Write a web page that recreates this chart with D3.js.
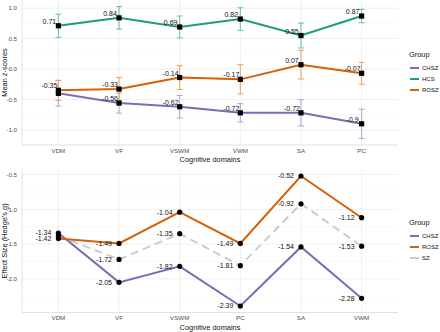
<!DOCTYPE html>
<html>
<head>
<meta charset="utf-8">
<script src="https://cdn.jsdelivr.net/npm/d3@7"></script>
<style>
  body { margin: 0; background: #fff; }
  svg text { font-family: "Liberation Sans", Arial, sans-serif; }
</style>
</head>
<body>
<svg id="chart" width="440" height="332"></svg>
<script>
// top panel: mean z-scores with error bars
var domainsTop = ["VDM", "VF", "VSWM", "VWM", "SA", "PC"];
var hcsMean = [0.71, 0.84, 0.69, 0.82, 0.55, 0.87];
var hcsErr = [0.19, 0.185, 0.18, 0.185, 0.205, 0.11];
var roszMean = [-0.35, -0.33, -0.14, -0.17, 0.07, -0.07];
var roszErr = [0.165, 0.19, 0.195, 0.24, 0.235, 0.18];
var chszMean = [-0.40, -0.56, -0.62, -0.72, -0.72, -0.9];
var chszErr = [0.21, 0.165, 0.185, 0.15, 0.215, 0.24];
var yTicksTop = [-1.0, -0.5, 0.0, 0.5, 1.0];

// bottom panel: effect sizes
var domainsBottom = ["VDM", "VF", "VSWM", "PC", "SA", "VWM"];
var chszG = [-1.34, -2.05, -1.82, -2.39, -1.54, -2.28];
var roszG = [-1.42, -1.49, -1.04, -1.49, -0.52, -1.12];
var szG = [-1.38, -1.72, -1.35, -1.81, -0.92, -1.53];
var yTicksBottom = [-2.0, -1.5, -1.0, -0.5];

var colors = { CHSZ: "#7570b3", HCS: "#1b9e77", ROSZ: "#d95f02", SZ: "#cccccc" };

var svg = d3.select("#chart");
var left = 22, right = 398;

function fmt(v) { return String(+v.toFixed(2)); }

function expand(lo, hi) {
    var pad = (hi - lo) * 0.05;
    return [lo - pad, hi + pad];
}

function drawPanel(cfg) {
    var g = svg.append("g");
    var x = d3.scalePoint().domain(cfg.cats).range([left, right]).padding(0.6);
    var y = d3.scaleLinear().domain(cfg.yDomain).range([cfg.bottom, cfg.top]);

    // minor grid
    var minor = [];
    for (var i = 0; i < cfg.ticks.length - 1; i++) minor.push((cfg.ticks[i] + cfg.ticks[i + 1]) / 2);
    minor.unshift(cfg.ticks[0] - 0.25);
    minor.push(cfg.ticks[cfg.ticks.length - 1] + 0.25);
    minor = minor.filter(function(v) { return v > cfg.yDomain[0] && v < cfg.yDomain[1]; });
    g.selectAll(".minor").data(minor).enter().append("line")
        .attr("x1", left).attr("x2", right)
        .attr("y1", function(d) { return y(d); }).attr("y2", function(d) { return y(d); })
        .attr("stroke", "#f2f2f2").attr("stroke-width", 0.5);
    g.selectAll(".major").data(cfg.ticks).enter().append("line")
        .attr("x1", left).attr("x2", right)
        .attr("y1", function(d) { return y(d); }).attr("y2", function(d) { return y(d); })
        .attr("stroke", "#ebebeb").attr("stroke-width", 0.8);
    g.selectAll(".vgrid").data(cfg.cats).enter().append("line")
        .attr("x1", function(d) { return x(d); }).attr("x2", function(d) { return x(d); })
        .attr("y1", cfg.top).attr("y2", cfg.bottom)
        .attr("stroke", "#ebebeb").attr("stroke-width", 0.8);

    // axis lines
    g.append("line").attr("x1", left).attr("x2", left).attr("y1", cfg.top).attr("y2", cfg.bottom)
        .attr("stroke", "#d9d9d9").attr("stroke-width", 0.8);
    g.append("line").attr("x1", left).attr("x2", right).attr("y1", cfg.bottom).attr("y2", cfg.bottom)
        .attr("stroke", "#d9d9d9").attr("stroke-width", 0.8);

    // tick labels
    g.selectAll(".ytl").data(cfg.ticks).enter().append("text")
        .attr("x", 17).attr("y", function(d) { return y(d); })
        .attr("dy", "0.35em").attr("text-anchor", "end")
        .attr("font-size", 6.2).attr("fill", "#4d4d4d")
        .text(function(d) { return d.toFixed(1); });
    g.selectAll(".xtl").data(cfg.cats).enter().append("text")
        .attr("x", function(d) { return x(d); }).attr("y", cfg.bottom + 7.5)
        .attr("text-anchor", "middle").attr("font-size", 6.2).attr("fill", "#4d4d4d")
        .text(function(d) { return d; });
    g.append("text").attr("x", (left + right) / 2).attr("y", cfg.bottom + 17)
        .attr("text-anchor", "middle").attr("font-size", 7.4).attr("fill", "#111")
        .text("Cognitive domains");
    g.append("text")
        .attr("transform", "translate(7," + ((cfg.top + cfg.bottom) / 2) + ") rotate(-90)")
        .attr("text-anchor", "middle").attr("font-size", 7.4).attr("fill", "#111")
        .text(cfg.yTitle);

    // error bars
    cfg.series.forEach(function(s) {
        if (!s.err) return;
        var eg = g.append("g").attr("stroke", s.errColor).attr("stroke-width", 1);
        s.values.forEach(function(v, i) {
            var cx = x(cfg.cats[i]);
            var lo = y(v - s.err[i]), hi = y(v + s.err[i]);
            eg.append("line").attr("x1", cx).attr("x2", cx).attr("y1", lo).attr("y2", hi);
            eg.append("line").attr("x1", cx - 3).attr("x2", cx + 3).attr("y1", lo).attr("y2", lo);
            eg.append("line").attr("x1", cx - 3).attr("x2", cx + 3).attr("y1", hi).attr("y2", hi);
        });
    });

    // lines
    var line = d3.line()
        .x(function(d, i) { return x(cfg.cats[i]); })
        .y(function(d) { return y(d); });
    cfg.series.forEach(function(s) {
        g.append("path").datum(s.values).attr("d", line)
            .attr("fill", "none").attr("stroke", colors[s.name]).attr("stroke-width", 2)
            .attr("stroke-dasharray", s.dash || null);
    });

    // points
    cfg.series.forEach(function(s) {
        s.values.forEach(function(v, i) {
            if (cfg.square) {
                g.append("rect").attr("x", x(cfg.cats[i]) - 2.6).attr("y", y(v) - 2.6)
                    .attr("width", 5.2).attr("height", 5.2).attr("fill", "#000");
            } else {
                g.append("circle").attr("cx", x(cfg.cats[i])).attr("cy", y(v))
                    .attr("r", 2.6).attr("fill", "#000");
            }
        });
    });

    // labels, skipping ones that sit too close to an earlier label
    var placed = [];
    cfg.labelOrder.forEach(function(name) {
        var s = cfg.series.filter(function(d) { return d.name === name; })[0];
        s.values.forEach(function(v, i) {
            var cx = x(cfg.cats[i]), cy = y(v);
            var hit = placed.some(function(p) {
                return Math.abs(p.x - cx) < 1 && Math.abs(p.y - cy) < 4.5;
            });
            if (hit) return;
            placed.push({ x: cx, y: cy });
            var t = g.append("text").attr("font-size", 7).attr("fill", "#111").text(fmt(v));
            if (cfg.square) {
                t.attr("x", cx - 9).attr("y", cy - 2).attr("text-anchor", "middle");
            } else {
                t.attr("x", cx - 7).attr("y", cy).attr("dy", "0.35em").attr("text-anchor", "end");
            }
        });
    });

    // legend
    var lg = g.append("g").attr("transform", "translate(409," + cfg.legendY + ")");
    lg.append("text").attr("x", 0).attr("y", 0).attr("font-size", 7.4).attr("fill", "#111").text("Group");
    cfg.legend.forEach(function(name, i) {
        var yy = 11 + i * 11;
        lg.append("line").attr("x1", 1).attr("x2", 10).attr("y1", yy).attr("y2", yy)
            .attr("stroke", colors[name]).attr("stroke-width", 2);
        lg.append("text").attr("x", 13).attr("y", yy).attr("dy", "0.35em")
            .attr("font-size", 6).attr("fill", "#111").text(name);
    });
}

function extentOf(arrs) {
    var all = [].concat.apply([], arrs);
    return expand(d3.min(all), d3.max(all));
}

drawPanel({
    cats: domainsTop,
    top: 0, bottom: 145,
    yDomain: extentOf([
        hcsMean.map(function(v, i) { return v + hcsErr[i]; }),
        roszMean.map(function(v, i) { return v + roszErr[i]; }),
        chszMean.map(function(v, i) { return v - chszErr[i]; })
    ]),
    ticks: yTicksTop,
    yTitle: "Mean z-scores",
    square: true,
    series: [
        { name: "CHSZ", values: chszMean, err: chszErr, errColor: "#a9a5d6" },
        { name: "HCS", values: hcsMean, err: hcsErr, errColor: "#5fc4a5" },
        { name: "ROSZ", values: roszMean, err: roszErr, errColor: "#f0a060" }
    ],
    labelOrder: ["HCS", "ROSZ", "CHSZ"],
    legend: ["CHSZ", "HCS", "ROSZ"],
    legendY: 57
});

drawPanel({
    cats: domainsBottom,
    top: 169.5, bottom: 312.5,
    yDomain: extentOf([chszG, roszG, szG]),
    ticks: yTicksBottom,
    yTitle: "Effect Size (Hedge's g)",
    square: false,
    series: [
        { name: "SZ", values: szG, dash: "8,5" },
        { name: "CHSZ", values: chszG },
        { name: "ROSZ", values: roszG }
    ],
    labelOrder: ["CHSZ", "ROSZ", "SZ"],
    legend: ["CHSZ", "ROSZ", "SZ"],
    legendY: 225
});
</script>
</body>
</html>
